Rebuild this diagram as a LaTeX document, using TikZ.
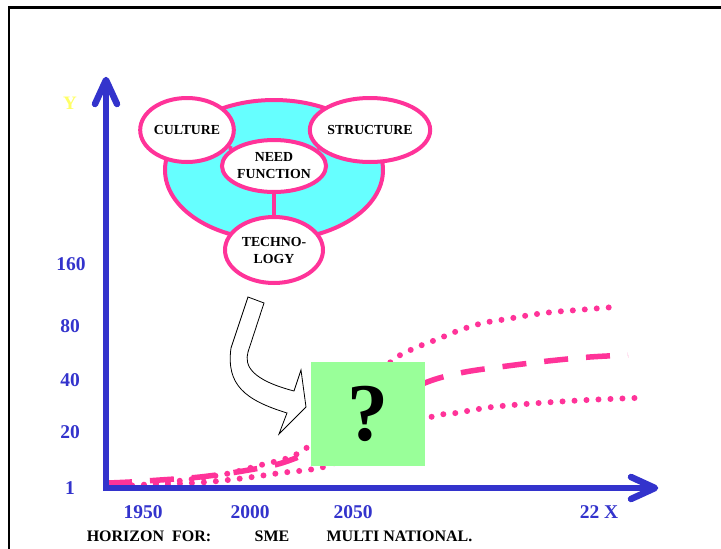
\documentclass[tikz,border=0pt]{standalone}
\usepackage{fontspec}
\setmainfont{Liberation Serif}
\usetikzlibrary{shapes.geometric,calc}
\definecolor{pk}{HTML}{FF3399}
\definecolor{cy}{HTML}{66FFFF}
\definecolor{gr}{HTML}{99FF99}
\definecolor{axb}{HTML}{3333CC}
\definecolor{yl}{HTML}{FFFF66}
\begin{document}
\begin{tikzpicture}[x=1pt,y=-1pt,
  bubble/.style={ellipse, draw=pk, line width=4pt, fill=white, inner sep=0pt,
    font=\fontsize{13.8}{17}\selectfont\bfseries, align=center},
  link/.style={draw=pk, line width=4pt},
  ylab/.style={text=axb, font=\fontsize{19.5}{22}\selectfont\bfseries, inner sep=0pt},
  btext/.style={font=\fontsize{16}{19}\selectfont\bfseries, inner sep=0pt},
  axisline/.style={draw=axb, line width=6pt},
  axishead/.style={draw=axb, line width=6.5pt, line cap=round, line join=round},
  dotcurve/.style={draw=pk, line width=6pt, line cap=round, dash pattern=on 0pt off 12pt},
  dashcurve/.style={draw=pk, line width=5.5pt, dash pattern=on 24pt off 18pt}]
\useasboundingbox (0,0) rectangle (721,549);
% frame
\draw[line width=2.5pt] (9,560) -- (9,7.5) -- (730,7.5);

% organisation diagram
\node[ellipse, draw=pk, line width=4pt, fill=cy, minimum width=218pt, minimum height=140pt, inner sep=0pt] (org) at (274,170) {};
\node[bubble, minimum width=90pt, minimum height=64pt] (culture) at (187,130) {CULTURE};
\node[bubble, minimum width=96pt, minimum height=64pt] (structure) at (370,130) {STRUCTURE};
\node[bubble, minimum width=88pt, minimum height=52pt] (need) at (274,166) {NEED\\FUNCTION};
\node[bubble, minimum width=98pt, minimum height=66pt] (tech) at (274,250) {TECHNO-\\LOGY};
\draw[link] (culture) -- (need);
\draw[link] (structure) -- (need);
\draw[link] (need) -- (tech);

% hollow arrow
\draw[fill=white, line width=0.8pt, line join=miter]
  (248,297) -- (264,303) -- (248,352)
  .. controls (244,366) and (252,380) .. (294,391)
  -- (301,370) -- (306,407) -- (279,434) -- (287,413)
  .. controls (245,400) and (226,385) .. (231,348) -- cycle;

% curves
\draw[dotcurve] plot[smooth] coordinates {(108,486) (140,485) (178,481) (226,474) (261,465) (288,458) (305,449) (330,428) (360,393) (393,360) (415,348) (438,339) (460,330) (483,323) (507,319) (530,315) (553,312) (578,310) (602,308) (615,307)};
\draw[dashcurve] plot[smooth] coordinates {(108,483) (130,482) (160,480) (200,477) (243,471) (285,462) (340,438) (390,400) (430,381) (465,372) (507,366) (548,361) (590,357) (628,355)};
\draw[dotcurve] plot[smooth] coordinates {(108,487) (172,484) (208,482) (245,478) (280,473) (327,466) (380,440) (431,417) (456,413) (492,407) (539,403) (587,400) (635,398)};

% question box
\node[rectangle, fill=gr, minimum width=114pt, minimum height=104pt, inner sep=0pt,
  font=\fontsize{82}{90}\selectfont\bfseries] (q) at (368,414) {?};

% axes
\coordinate (O) at (106,488);
\coordinate (ytip) at (106,80);
\coordinate (xtip) at (655,488);
\draw[axisline] (106,491) -- (ytip);
\draw[axisline] (103,488) -- (xtip);
\draw[axishead] ($(ytip)+(-11,24)$) -- (ytip) -- ($(ytip)+(11,24)$);
\draw[axishead] ($(xtip)+(-24,-11)$) -- (xtip) -- ($(xtip)+(-24,11)$);

% labels
\node[text=yl, font=\fontsize{19}{22}\selectfont\bfseries, inner sep=0pt] (ylabel) at (70,103) {Y};
\node[ylab] (l160) at (71,264) {160};
\node[ylab] (l80) at (70,326) {80};
\node[ylab] (l40) at (70,380) {40};
\node[ylab] (l20) at (70,432) {20};
\node[ylab] (l1) at (70,488) {1};
\node[ylab] (x1950) at (143,512) {1950};
\node[ylab] (x2000) at (250,512) {2000};
\node[ylab] (x2050) at (353,512) {2050};
\node[ylab] (x22) at (599,512) {22 X};
\node[btext] (hor) at (149,536) {HORIZON\ \ FOR:};
\node[btext] (sme) at (272,536) {SME};
\node[btext] (mn) at (399.5,536) {MULTI NATIONAL.};
\end{tikzpicture}
\end{document}
